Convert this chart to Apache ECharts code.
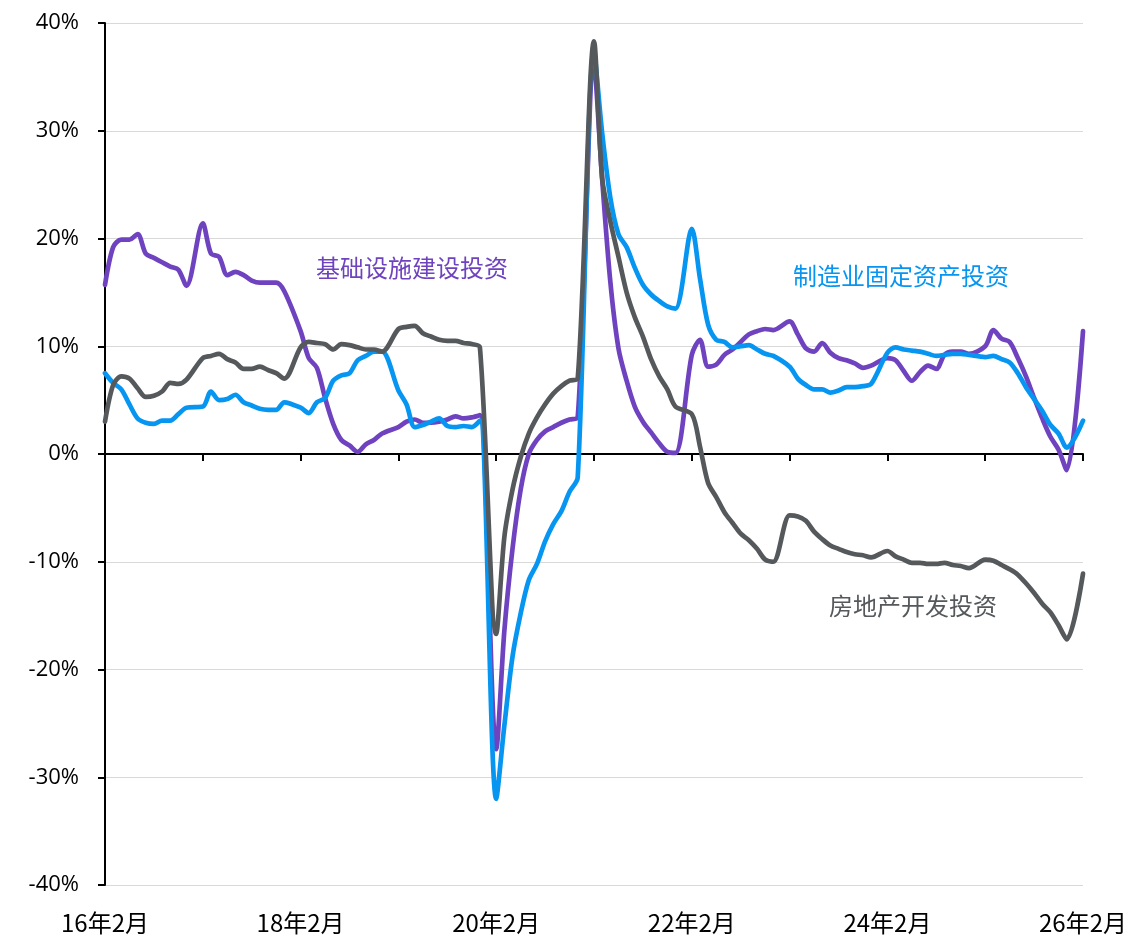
<!DOCTYPE html>
<html>
<head>
<meta charset="utf-8">
<script src="https://cdn.jsdelivr.net/npm/echarts@6/dist/echarts.min.js"></script>
<style>
html,body{margin:0;padding:0;background:#fff;}
#chart{width:1130px;height:939px;}
</style>
</head>
<body>
<div id="chart"></div>
<script>
// Monthly categories 2016-02 .. 2026-02 (January has no separate release -> null)
const categories = [];
for (let y = 2016; y <= 2026; y++) {
  for (let m = 1; m <= 12; m++) {
    if ((y === 2016 && m < 2) || (y === 2026 && m > 2)) continue;
    categories.push(String(y % 100).padStart(2, '0') + '年' + m + '月');
  }
}

// 基础设施建设投资 (cumulative YoY, %), Feb..Dec each year, null = January
const infra = [
  15.7, 19.2, 19.9, 19.9, 20.4, 18.6, 18.2, 17.8, 17.4, 17.1, 15.6, null,
  21.4, 18.6, 18.3, 16.6, 16.9, 16.6, 16.1, 15.9, 15.9, 15.9, 15.1, null,
  11.4, 8.9, 8.0, 5.2, 2.8, 1.3, 0.8, 0.2, 0.9, 1.3, 1.9, null,
  2.5, 3.0, 3.2, 2.9, 2.9, 3.0, 3.2, 3.5, 3.3, 3.4, 3.6, null,
  -27.4, -16.4, -8.8, -3.3, 0.0, 1.3, 2.1, 2.5, 2.9, 3.2, 3.4, null,
  36.0, 25.5, 16.0, 9.8, 6.8, 4.4, 3.0, 2.0, 1.0, 0.2, 0.1, null,
  9.2, 10.6, 8.1, 8.3, 9.2, 9.7, 10.4, 11.1, 11.4, 11.6, 11.5, null,
  12.3, 11.1, 9.8, 9.5, 10.3, 9.4, 8.9, 8.7, 8.4, 8.0, 8.2, null,
  8.9, 8.7, 7.7, 6.8, 7.6, 8.2, 7.9, 9.2, 9.5, 9.5, 9.3, null,
  10.0, 11.5, 10.7, 10.4, 8.9, 7.2, 5.2, 3.3, 1.6, 0.4, -1.5, null,
  11.4
];

// 制造业固定资产投资
const manufacturing = [
  7.5, 6.6, 6.0, 4.6, 3.3, 2.9, 2.8, 3.1, 3.1, 3.7, 4.3, null,
  4.4, 5.8, 5.0, 5.1, 5.5, 4.8, 4.5, 4.2, 4.1, 4.1, 4.8, null,
  4.3, 3.8, 4.8, 5.2, 6.8, 7.3, 7.5, 8.7, 9.1, 9.5, 9.5, null,
  5.9, 4.6, 2.5, 2.7, 3.0, 3.3, 2.6, 2.5, 2.6, 2.5, 3.1, null,
  -32.0, -25.2, -18.8, -14.8, -11.7, -10.2, -8.1, -6.5, -5.3, -3.5, -2.2, null,
  37.3, 29.8, 23.8, 20.4, 19.2, 17.3, 15.7, 14.8, 14.2, 13.7, 13.5, null,
  20.9, 16.3, 12.0, 10.6, 10.4, 9.9, 10.0, 10.1, 9.7, 9.3, 9.1, null,
  8.1, 7.0, 6.4, 6.0, 6.0, 5.7, 5.9, 6.2, 6.2, 6.3, 6.5, null,
  9.4, 9.9, 9.7, 9.6, 9.5, 9.3, 9.1, 9.2, 9.3, 9.3, 9.2, null,
  9.0, 9.1, 8.8, 8.5, 7.5, 6.2, 5.1, 4.0, 2.7, 1.9, 0.6, null,
  3.1
];

// 房地产开发投资
const realEstate = [
  3.0, 6.4, 7.2, 7.0, 6.1, 5.3, 5.4, 5.8, 6.6, 6.5, 6.9, null,
  8.9, 9.1, 9.3, 8.8, 8.5, 7.9, 7.9, 8.1, 7.8, 7.5, 7.0, null,
  9.9, 10.4, 10.3, 10.2, 9.7, 10.2, 10.1, 9.9, 9.7, 9.7, 9.5, null,
  11.6, 11.8, 11.9, 11.2, 10.9, 10.6, 10.5, 10.5, 10.3, 10.2, 9.9, null,
  -16.7, -7.7, -3.3, -0.3, 1.9, 3.4, 4.6, 5.6, 6.3, 6.8, 7.0, null,
  38.3, 25.6, 21.6, 18.3, 15.0, 12.7, 10.9, 8.8, 7.2, 6.0, 4.4, null,
  3.7, 0.7, -2.7, -4.0, -5.4, -6.4, -7.4, -8.0, -8.8, -9.8, -10.0, null,
  -5.7, -5.8, -6.2, -7.2, -7.9, -8.5, -8.8, -9.1, -9.3, -9.4, -9.6, null,
  -9.0, -9.5, -9.8, -10.1, -10.1, -10.2, -10.2, -10.1, -10.3, -10.4, -10.6, null,
  -9.8, -9.9, -10.3, -10.7, -11.2, -12.0, -12.9, -13.9, -14.7, -15.9, -17.2, null,
  -11.1
];

const seriesNames = ['基础设施建设投资', '制造业固定资产投资', '房地产开发投资'];
const colors = ['#6F43BF', '#0795F2', '#55595C'];
const yTicks = { min: -40, max: 40, interval: 10 };

const CJK = '"Noto Sans CJK SC", "Noto Sans", sans-serif';
const NUM = '"Open Sans", "Noto Sans", sans-serif';
const chart = echarts.init(document.getElementById('chart'), null, { renderer: 'canvas' });

function lineSeries(name, data, color) {
  return {
    name, type: 'line', data, xAxisIndex: 0, yAxisIndex: 0,
    showSymbol: false, symbol: 'none', connectNulls: true, smooth: 0.3,
    lineStyle: { color, width: 4.7, join: 'round', cap: 'round' },
    itemStyle: { color },
    emphasis: { disabled: true }
  };
}

chart.setOption({
  animation: false,
  backgroundColor: '#ffffff',
  grid: { left: 105, right: 46, top: 23, bottom: 54, containLabel: false },
  xAxis: [
    {
      type: 'category', data: categories, boundaryGap: false, position: 'bottom',
      axisLine: { show: false, onZero: false }, axisTick: { show: false },
      axisLabel: { interval: 23, margin: 26, fontSize: 24, color: '#000', fontFamily: CJK },
      splitLine: { show: false }
    },
    {
      type: 'category', data: categories, boundaryGap: false, position: 'bottom',
      axisLine: { show: true, onZero: true, lineStyle: { color: '#000', width: 2 } },
      axisTick: { show: true, interval: 11, length: 7, inside: false, lineStyle: { color: '#000', width: 2 } },
      axisLabel: { show: false }, splitLine: { show: false }
    }
  ],
  yAxis: {
    type: 'value', min: yTicks.min, max: yTicks.max, interval: yTicks.interval,
    axisLine: { show: true, onZero: false, lineStyle: { color: '#000', width: 2 } },
    axisTick: { show: true, length: 7, inside: false, lineStyle: { color: '#000', width: 2 } },
    axisLabel: { formatter: v => v + '%', fontSize: 22, color: '#000', margin: 26, fontFamily: NUM },
    splitLine: { show: true, lineStyle: { color: '#D9D9D9', width: 1 } }
  },
  series: [
    lineSeries(seriesNames[0], infra, colors[0]),
    lineSeries(seriesNames[1], manufacturing, colors[1]),
    lineSeries(seriesNames[2], realEstate, colors[2])
  ],
  graphic: [
    { type: 'text', x: 316, y: 268, style: { text: seriesNames[0], fill: colors[0], font: '24px ' + CJK, align: 'left', verticalAlign: 'middle' } },
    { type: 'text', x: 793, y: 276, style: { text: seriesNames[1], fill: colors[1], font: '24px ' + CJK, align: 'left', verticalAlign: 'middle' } },
    { type: 'text', x: 829, y: 606, style: { text: seriesNames[2], fill: colors[2], font: '24px ' + CJK, align: 'left', verticalAlign: 'middle' } }
  ]
});
</script>
</body>
</html>
